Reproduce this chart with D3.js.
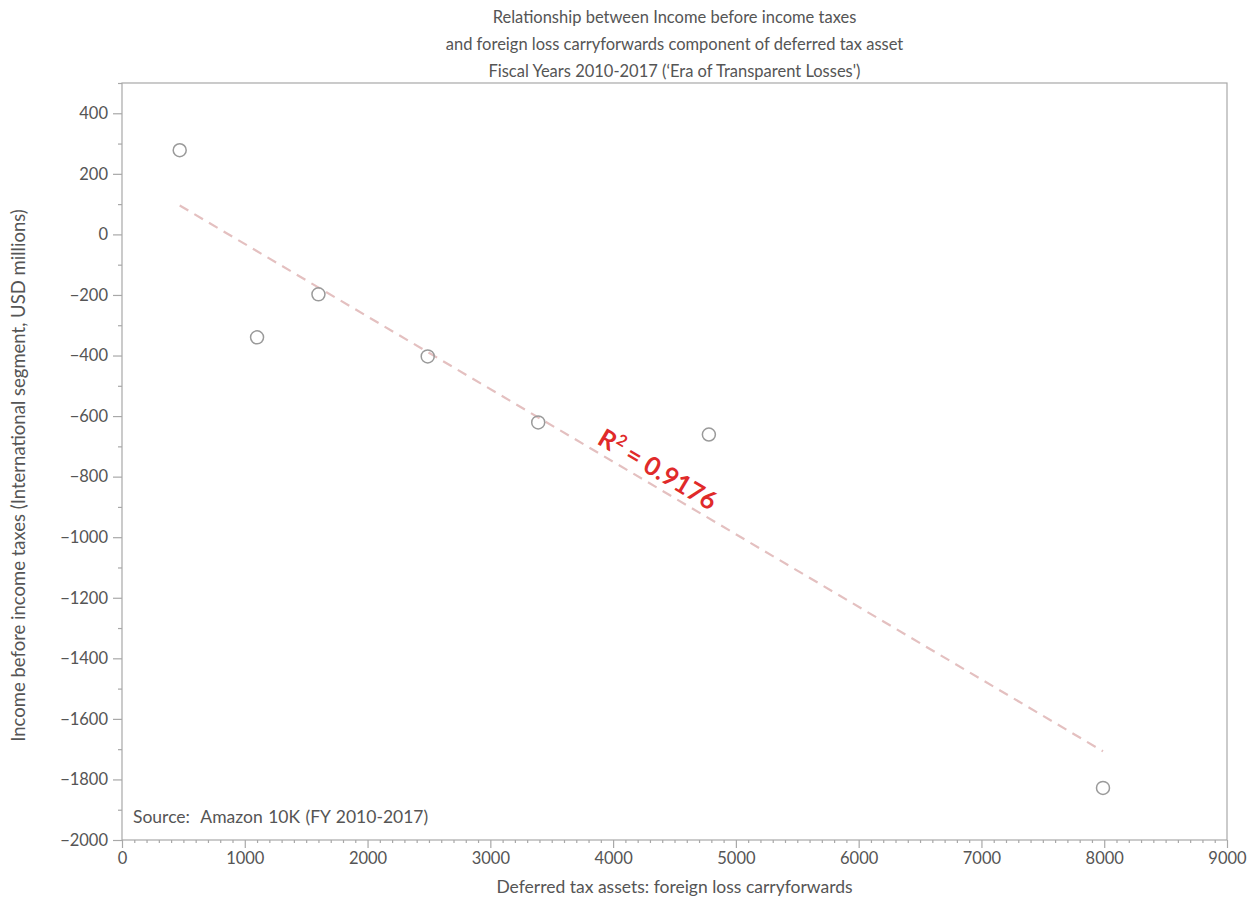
<!DOCTYPE html>
<html>
<head>
<meta charset="utf-8">
<script src="https://cdn.jsdelivr.net/npm/d3@7"></script>
<style>
  html, body { margin: 0; padding: 0; background: #fff; }
  svg { display: block; font-family: "Lato", "Open Sans", sans-serif; }
</style>
</head>
<body>
<svg id="chart" width="1256" height="906"></svg>
<script>
// Deferred tax assets (foreign loss carryforwards) vs. international income before taxes
const lossCarryforwards = [470, 1100, 1600, 2490, 3390, 4780, 7990];
const incomeBeforeTaxes = [278, -340, -198, -403, -621, -661, -1828];

const xTicks = [0, 1000, 2000, 3000, 4000, 5000, 6000, 7000, 8000, 9000];
const yTicks = [400, 200, 0, -200, -400, -600, -800, -1000, -1200, -1400, -1600, -1800, -2000];

const titleLines = [
  "Relationship between Income before income taxes",
  "and foreign loss carryforwards component of deferred tax asset",
  "Fiscal Years 2010-2017 (\u2018Era of Transparent Losses')"
];
const xLabel = "Deferred tax assets: foreign loss carryforwards";
const yLabel = "Income before income taxes (International segment, USD millions)";
const sourceNote = "Source:  Amazon 10K (FY 2010-2017)";
const rSquaredText = "0.9176";

const svg = d3.select("#chart");
const margin = { left: 122, right: 29, top: 83, bottom: 66 };
const W = 1256, H = 906;
const plotW = W - margin.left - margin.right;
const plotH = H - margin.top - margin.bottom;

const x = d3.scaleLinear().domain([0, 9000]).range([margin.left, margin.left + plotW]);
const y = d3.scaleLinear().domain([-2000, 500]).range([margin.top + plotH, margin.top]);

const axisColor = "#a8a8a8";
const labelColor = "#555";

// plot frame
svg.append("rect")
  .attr("x", margin.left).attr("y", margin.top)
  .attr("width", plotW).attr("height", plotH)
  .attr("fill", "none").attr("stroke", axisColor).attr("stroke-width", 1.2);

// x axis: minor ticks every 100, major every 1000
const xMinor = d3.range(0, 9001, 100).filter(v => v % 1000 !== 0);
const xAxisMinor = d3.axisBottom(x).tickValues(xMinor).tickSize(3).tickFormat("");
const xAxis = d3.axisBottom(x).tickValues(xTicks).tickSize(8).tickPadding(4).tickFormat(d3.format("d"));
const gxm = svg.append("g").attr("transform", `translate(0,${margin.top + plotH})`).call(xAxisMinor);
const gx = svg.append("g").attr("transform", `translate(0,${margin.top + plotH})`).call(xAxis);

// y axis: minor ticks every 100, major every 200
const yMinor = d3.range(-1900, 501, 200);
const yAxisMinor = d3.axisLeft(y).tickValues(yMinor).tickSize(4).tickFormat("");
const yAxis = d3.axisLeft(y).tickValues(yTicks).tickSize(9).tickPadding(5)
  .tickFormat(d => d < 0 ? "\u2212" + Math.abs(d) : String(d));
const gym = svg.append("g").attr("transform", `translate(${margin.left},0)`).call(yAxisMinor);
const gy = svg.append("g").attr("transform", `translate(${margin.left},0)`).call(yAxis);

[gxm, gx, gym, gy].forEach(g => {
  g.select(".domain").remove();
  g.selectAll(".tick line").attr("stroke", axisColor).attr("stroke-width", 1.2);
  g.selectAll(".tick text").attr("fill", labelColor).style("font-size", "16.5px")
    .style("font-family", "Lato, 'Open Sans', sans-serif");
});

// least-squares fit for the trend line
const n = lossCarryforwards.length;
const mx = d3.mean(lossCarryforwards), my = d3.mean(incomeBeforeTaxes);
let sxy = 0, sxx = 0;
for (let i = 0; i < n; i++) {
  sxy += (lossCarryforwards[i] - mx) * (incomeBeforeTaxes[i] - my);
  sxx += (lossCarryforwards[i] - mx) ** 2;
}
const slope = sxy / sxx, intercept = my - slope * mx;
const [x0, x1] = d3.extent(lossCarryforwards);
svg.append("line")
  .attr("x1", x(x0)).attr("y1", y(intercept + slope * x0))
  .attr("x2", x(x1)).attr("y2", y(intercept + slope * x1))
  .attr("stroke", "#e4c0c0").attr("stroke-width", 2.2)
  .attr("stroke-dasharray", "10,7");

// data points
svg.append("g").selectAll("circle")
  .data(lossCarryforwards.map((v, i) => [v, incomeBeforeTaxes[i]]))
  .join("circle")
  .attr("cx", d => x(d[0])).attr("cy", d => y(d[1]))
  .attr("r", 6.5)
  .attr("fill", "none").attr("stroke", "#9a9a9a").attr("stroke-width", 1.5);

// R² annotation along the trend line
const angle = Math.atan2(y(intercept + slope * x1) - y(intercept + slope * x0), x(x1) - x(x0)) * 180 / Math.PI;
const ann = svg.append("text")
  .attr("transform", `translate(${x(3860)},${y(-690)}) rotate(${angle})`)
  .attr("fill", "#e02a2a").attr("font-weight", "bold").style("font-size", "25.5px")
  .style("font-family", "Lato, 'Open Sans', sans-serif");
ann.append("tspan").text("R");
ann.append("tspan").attr("dy", -10).style("font-size", "16px").text("2");
ann.append("tspan").attr("dy", 10).text(" = " + rSquaredText);

// titles
svg.append("g").selectAll("text").data(titleLines).join("text")
  .attr("x", margin.left + plotW / 2).attr("y", (d, i) => 23 + i * 27)
  .attr("text-anchor", "middle").attr("fill", labelColor)
  .style("font-size", "16.5px").text(d => d);

// axis labels
svg.append("text")
  .attr("x", margin.left + plotW / 2).attr("y", 893)
  .attr("text-anchor", "middle").attr("fill", labelColor)
  .style("font-size", "17.5px").text(xLabel);

svg.append("text")
  .attr("transform", `translate(25,${margin.top + plotH / 2 + 14}) rotate(-90)`)
  .attr("text-anchor", "middle").attr("fill", labelColor)
  .style("font-size", "18.5px").text(yLabel);

// source note
svg.append("text")
  .attr("x", 133).attr("y", 823)
  .attr("fill", labelColor).style("font-size", "17.5px").style("word-spacing", "1px")
  .text(sourceNote.replace("  ", "\u00a0 "));
</script>
</body>
</html>
